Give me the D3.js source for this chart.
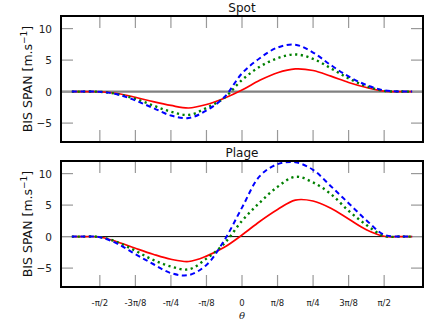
<!DOCTYPE html>
<html>
<head>
<meta charset="utf-8">
<script src="https://cdn.jsdelivr.net/npm/d3@7"></script>
<style>
  body { margin: 0; background: #fff; }
  svg { display: block; font-family: "DejaVu Sans", sans-serif; }
</style>
</head>
<body>
<div id="chart-area"></div>
<script>
// phase angle theta (rad)
var theta = [-1.88, -1.767, -1.571, -1.374, -1.178, -0.982, -0.785, -0.589, -0.393, -0.196, 0,
             0.196, 0.393, 0.589, 0.785, 0.982, 1.178, 1.374, 1.571, 1.767, 1.88];

// Spot panel
var spotRed   = [0, 0, -0.02, -0.3, -0.9, -1.6, -2.2, -2.6, -2.05, -1.05, 0.25, 1.8, 3.0, 3.6, 3.35, 2.45, 1.45, 0.65, 0.08, 0.005, 0];
var spotGreen = [0, 0, -0.03, -0.4, -1.15, -2.2, -3.2, -3.7, -2.6, -1.0, 1.85, 3.95, 5.3, 5.9, 5.2, 3.7, 2.1, 0.85, 0.12, 0.01, 0];
var spotBlue  = [0, 0, -0.03, -0.45, -1.4, -2.6, -3.8, -4.2, -3.0, -0.9, 2.9, 5.3, 7.0, 7.45, 6.2, 4.2, 2.4, 1.05, 0.2, 0.015, 0];

// Plage panel
var plageRed   = [0, 0, -0.06, -0.85, -1.85, -2.8, -3.6, -3.95, -3.1, -1.7, 0.25, 2.4, 4.3, 5.8, 5.65, 4.5, 2.8, 1.1, 0.05, 0.005, 0];
var plageGreen = [0, 0, -0.07, -0.9, -2.25, -3.7, -4.75, -5.2, -3.5, -1.1, 2.5, 5.4, 7.9, 9.5, 8.6, 6.75, 4.1, 1.85, 0.1, 0.01, 0];
var plageBlue  = [0, 0, -0.09, -1.15, -2.8, -4.35, -5.8, -6.1, -4.5, -0.6, 4.6, 9.6, 11.5, 11.8, 10.6, 8.0, 5.3, 2.6, 0.3, 0.02, 0];

var xTickValues = [-1.5708, -1.1781, -0.7854, -0.3927, 0, 0.3927, 0.7854, 1.1781, 1.5708];
var xTickLabels = ["-\u03c0/2", "-3\u03c0/8", "-\u03c0/4", "-\u03c0/8", "0", "\u03c0/8", "\u03c0/4", "3\u03c0/8", "\u03c0/2"];
var yTickValues = [-5, 0, 5, 10];

var width = 436, height = 327;
var left = 61, right = 423;

var svg = d3.select("#chart-area")
    .append("svg")
        .attr("width", width)
        .attr("height", height);

var x = d3.scaleLinear()
    .domain([-2, 2])
    .range([left, right]);

var panels = [
    { title: "Spot",  top: 16,  bottom: 142, red: spotRed,  green: spotGreen,  blue: spotBlue,
      zeroColor: "#808080", zeroWidth: 2.2, titleY: 12 },
    { title: "Plage", top: 161, bottom: 287, red: plageRed, green: plageGreen, blue: plageBlue,
      zeroColor: "#000", zeroWidth: 1, titleY: 157 }
];

panels.forEach(function(p, pi){
    var y = d3.scaleLinear()
        .domain([-8, 12])
        .range([p.bottom, p.top]);

    var g = svg.append("g");

    // clip to the axes box
    var clipId = "clip-" + pi;
    g.append("clipPath").attr("id", clipId)
        .append("rect")
            .attr("x", left).attr("y", p.top)
            .attr("width", right - left).attr("height", p.bottom - p.top);

    // zero line
    g.append("line")
        .attr("x1", left).attr("x2", right)
        .attr("y1", y(0)).attr("y2", y(0))
        .attr("stroke", p.zeroColor)
        .attr("stroke-width", p.zeroWidth);

    // ticks (inside, all four sides)
    var tickColor = "#999";
    xTickValues.forEach(function(t){
        g.append("line")
            .attr("x1", x(t)).attr("x2", x(t))
            .attr("y1", p.top).attr("y2", p.top + 12)
            .attr("stroke", tickColor).attr("stroke-width", 1.2);
        g.append("line")
            .attr("x1", x(t)).attr("x2", x(t))
            .attr("y1", p.bottom).attr("y2", p.bottom - 12)
            .attr("stroke", tickColor).attr("stroke-width", 1.2);
    });
    yTickValues.forEach(function(v){
        g.append("line")
            .attr("x1", left).attr("x2", left + 12)
            .attr("y1", y(v)).attr("y2", y(v))
            .attr("stroke", tickColor).attr("stroke-width", 1.2);
        g.append("line")
            .attr("x1", right).attr("x2", right - 12)
            .attr("y1", y(v)).attr("y2", y(v))
            .attr("stroke", tickColor).attr("stroke-width", 1.2);
        g.append("text")
            .attr("x", 52)
            .attr("y", y(v) + 4)
            .attr("text-anchor", "end")
            .attr("font-size", "10.5px")
            .attr("fill", "#222")
            .text(v < 0 ? "\u2212" + Math.abs(v) : v);
    });

    // curves
    var line = function(vals){
        return d3.line()
            .x(function(d, i){ return x(theta[i]); })
            .y(function(d){ return y(d); })
            .curve(d3.curveCatmullRom.alpha(0.5))(vals);
    };
    var curves = g.append("g").attr("clip-path", "url(#" + clipId + ")");
    curves.append("path")
        .attr("d", line(p.red))
        .attr("fill", "none")
        .attr("stroke", "#ff0000")
        .attr("stroke-width", 1.7);
    curves.append("path")
        .attr("d", line(p.green))
        .attr("fill", "none")
        .attr("stroke", "#008000")
        .attr("stroke-width", 2.4)
        .attr("stroke-dasharray", "2.2,3.5");
    curves.append("path")
        .attr("d", line(p.blue))
        .attr("fill", "none")
        .attr("stroke", "#0000ff")
        .attr("stroke-width", 2)
        .attr("stroke-dasharray", "5,3.5");

    // frame
    g.append("rect")
        .attr("x", left).attr("y", p.top)
        .attr("width", right - left).attr("height", p.bottom - p.top)
        .attr("fill", "none")
        .attr("stroke", "#000")
        .attr("stroke-width", 2);

    // title
    g.append("text")
        .attr("x", (left + right) / 2)
        .attr("y", p.titleY)
        .attr("text-anchor", "middle")
        .attr("font-size", "12px")
        .attr("fill", "#111")
        .text(p.title);

    // y label
    g.append("text")
        .attr("transform", "translate(32," + ((p.top + p.bottom) / 2) + ") rotate(-90)")
        .attr("text-anchor", "middle")
        .attr("font-size", "12.5px")
        .attr("fill", "#111")
        .html("BIS SPAN [m.s<tspan dy='-5' font-size='9px'>\u22121</tspan><tspan dy='5'>]</tspan>");

    // x tick labels under the bottom panel only
    if (pi === 1) {
        xTickValues.forEach(function(t, i){
            g.append("text")
                .attr("x", x(t))
                .attr("y", 306)
                .attr("text-anchor", "middle")
                .attr("font-size", "8.5px")
                .attr("fill", "#222")
                .text(xTickLabels[i]);
        });
        g.append("text")
            .attr("x", x(0))
            .attr("y", 319)
            .attr("text-anchor", "middle")
            .attr("font-size", "10px")
            .attr("font-style", "italic")
            .attr("font-family", "DejaVu Serif, serif")
            .attr("fill", "#222")
            .text("\u03b8");
    }
});
</script>
</body>
</html>
